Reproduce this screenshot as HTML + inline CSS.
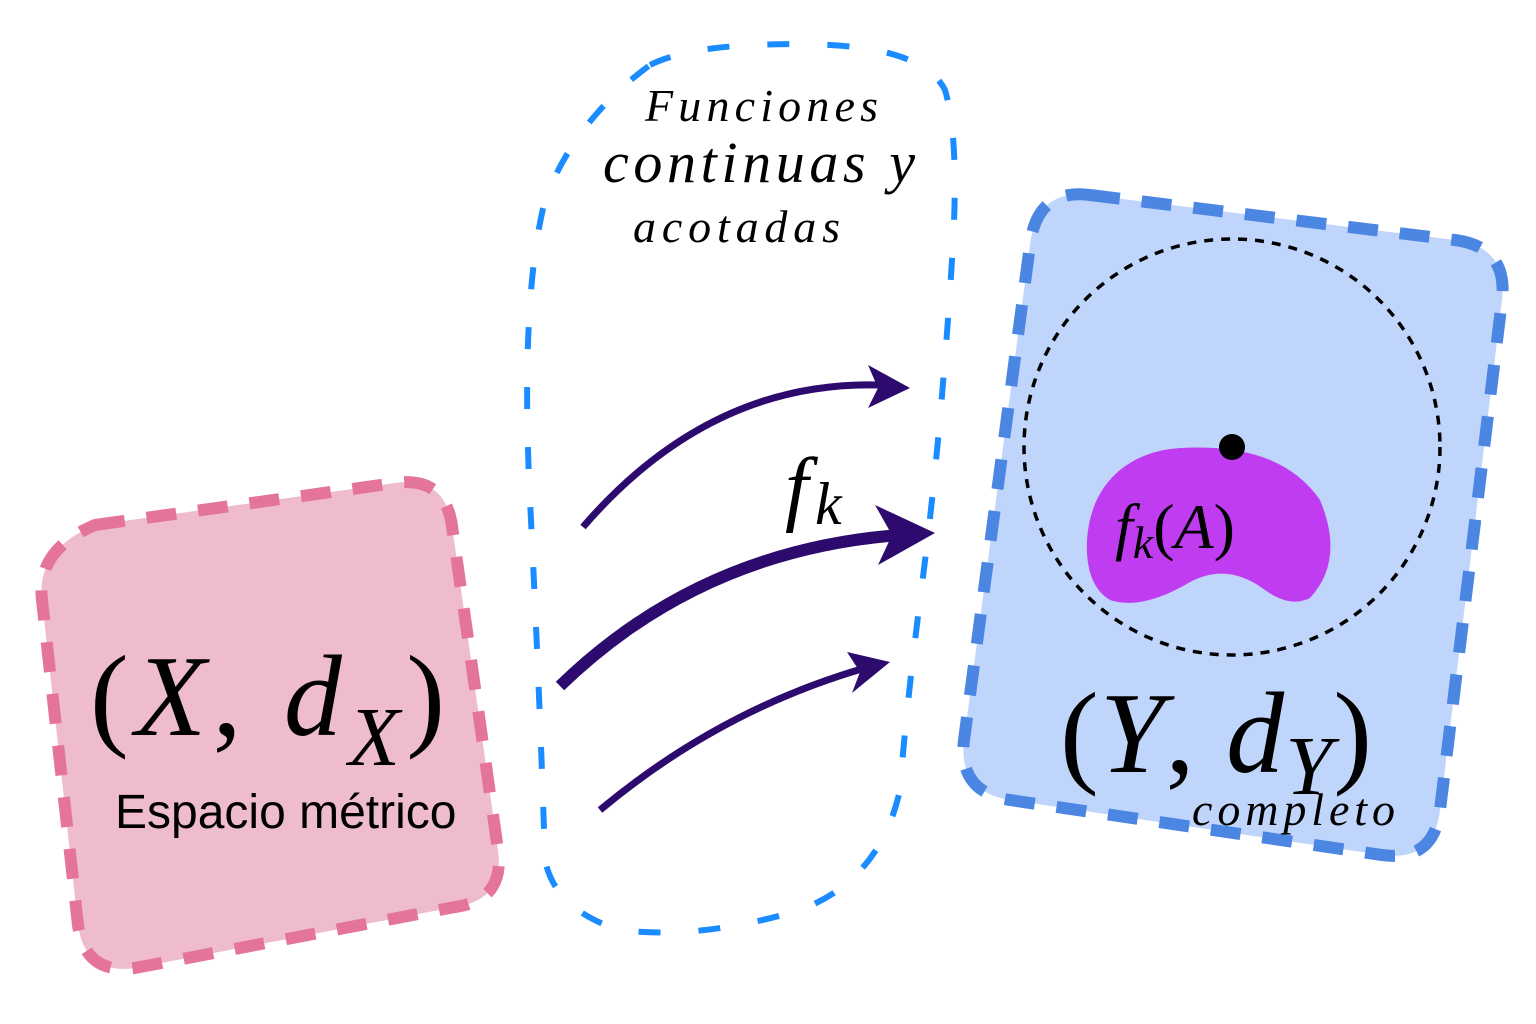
<!DOCTYPE html>
<html><head><meta charset="utf-8"><style>
html,body{margin:0;padding:0;background:#fff;}
svg{display:block;}
.serif{font-family:"Liberation Serif",serif;font-style:italic;}
</style></head><body>
<svg width="1536" height="1024" viewBox="0 0 1536 1024" xmlns="http://www.w3.org/2000/svg">
<!-- pink box -->
<path d="M95,525 L395,483 Q445,476 452,526 L498,850 Q505,900 455,907 L135,968 Q85,975 78,925 L42,600 Q36,550 95,525 Z" fill="#eebccb" stroke="#e47499" stroke-width="12" stroke-dasharray="30,22"/>
<!-- blue box -->
<path d="M1090,195 L1455,240 Q1508,247 1502,300 L1440,810 Q1434,862 1382,855 L1010,800 Q958,792 964,740 L1030,245 Q1037,188 1090,195 Z" fill="#c0d5fb" stroke="#4a86e2" stroke-width="12" stroke-dasharray="30,22"/>
<!-- blue dashed tall region -->
<path d="M650,65 Q700,40 830,45 Q925,50 945,90 Q960,140 952,260 Q940,450 920,600 Q905,720 900,790 Q880,880 800,910 Q700,940 620,930 Q555,910 545,860 Q540,700 530,500 Q520,300 545,200 Q575,120 650,65 Z" fill="none" stroke="#1a8cff" stroke-width="6" stroke-dasharray="22,38"/>
<!-- dashed circle -->
<circle cx="1232" cy="447" r="208" fill="none" stroke="#000" stroke-width="3.5" stroke-dasharray="9,8"/>
<!-- blob -->
<path d="M1180,448 Q1280,442 1320,500 Q1345,560 1310,598 Q1290,608 1265,590 Q1225,560 1185,585 Q1140,610 1110,600 Q1085,585 1087,540 Q1090,495 1120,470 Q1145,450 1180,448 Z" fill="#c03cf0"/>
<circle cx="1232" cy="447" r="13" fill="#000"/>
<!-- arrows -->
<g fill="none" stroke="#2d0a6e" stroke-linecap="butt">
<path d="M583,527 Q710,380 880,385" stroke-width="7"/>
<path d="M560,686 Q700,550 900,535" stroke-width="12"/>
<path d="M600,810 Q720,710 865,668" stroke-width="7"/>
</g>
<g fill="#2d0a6e">
<polygon points="910,388 868,365 878,388 868,408"/>
<polygon points="935,533 875,505 892,535 878,565"/>
<polygon points="890,662 847,652 860,672 852,693"/>
</g>
<!-- texts -->
<text x="645" y="121" class="serif" font-size="46" textLength="233" lengthAdjust="spacing">Funciones</text>
<text x="603" y="182" class="serif" font-size="58" textLength="312" lengthAdjust="spacing">continuas y</text>
<text x="633" y="242" class="serif" font-size="46" textLength="207" lengthAdjust="spacing">acotadas</text>
<text x="785" y="515" class="serif" font-size="84">f</text>
<text x="815" y="524" class="serif" font-size="60">k</text>
<text x="90" y="735" font-family="Liberation Serif,serif" font-size="116" textLength="355" lengthAdjust="spacing">(<tspan font-style="italic">X</tspan>, <tspan font-style="italic">d</tspan><tspan font-style="italic" font-size="84" dy="30">X</tspan><tspan dy="-30">)</tspan></text>
<text x="115" y="828" font-family="Liberation Sans,sans-serif" font-size="48">Espacio métrico</text>
<text x="1060" y="772" font-family="Liberation Serif,serif" font-size="116" textLength="312" lengthAdjust="spacing">(<tspan font-style="italic">Y</tspan>, <tspan font-style="italic">d</tspan><tspan font-style="italic" font-size="84" dy="22">Y</tspan><tspan dy="-22">)</tspan></text>
<text x="1192" y="825" class="serif" font-size="46" textLength="203" lengthAdjust="spacing">completo</text>
<text x="1115" y="548" font-family="Liberation Serif,serif" font-size="64"><tspan font-style="italic">f</tspan><tspan font-style="italic" font-size="46" dy="10">k</tspan><tspan dy="-10">(</tspan><tspan font-style="italic">A</tspan>)</text>
</svg>
</body></html>
